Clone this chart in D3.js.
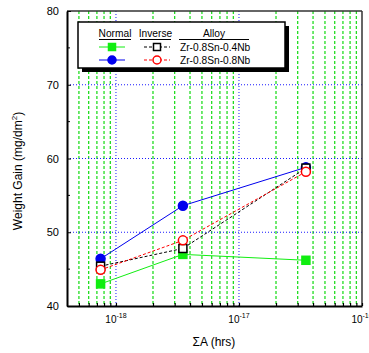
<!DOCTYPE html>
<html>
<head>
<meta charset="utf-8">
<script src="https://cdn.jsdelivr.net/npm/d3@7"></script>
<style>
  html, body { margin: 0; padding: 0; background: #fff; }
  svg { display: block; font-family: "Liberation Sans", Arial, sans-serif; }
</style>
</head>
<body>
<svg id="chart" width="369" height="353"></svg>
<script>
// Cumulative fluence ΣA (hrs) for each exposure step
const exposure = [7.5e-19, 3.5e-18, 3.5e-17];

// Weight gain (mg/dm²) per alloy and ordering
const normal04 = [43.0, 47.0, 46.2];   // Zr-0.8Sn-0.4Nb, normal
const normal08 = [46.4, 53.6, 58.8];   // Zr-0.8Sn-0.8Nb, normal
const inverse04 = [45.4, 47.8, 58.7];  // Zr-0.8Sn-0.4Nb, inverse
const inverse08 = [44.9, 48.9, 58.2];  // Zr-0.8Sn-0.8Nb, inverse

const yTicks = [40, 50, 60, 70, 80];
const yMinorTicks = [45, 55, 65, 75];
const xDecades = [1e-18, 1e-17, 1e-16];
const xDecadeExps = ["-18", "-17", "-16"];
const legendHeaders = ["Normal", "Inverse", "Alloy"];
const alloys = ["Zr-0.8Sn-0.4Nb", "Zr-0.8Sn-0.8Nb"];

const svg = d3.select("#chart");
const m = { left: 67, right: 362, top: 11, bottom: 306 };

const x = d3.scaleLog().domain([4e-19, 1e-16]).range([m.left, m.right]);
const y = d3.scaleLinear().domain([40, 80]).range([m.bottom, m.top]);

// minor (2..9 × decade) positions inside the domain
const minorX = [];
[1e-19, 1e-18, 1e-17].forEach(d => {
  for (let k = 2; k <= 9; k++) {
    const v = d * k;
    if (v > 4e-19 && v < 1e-16) minorX.push(v);
  }
});

const grid = svg.append("g");
// green dashed minor verticals
grid.selectAll("line.minor").data(minorX).join("line")
  .attr("x1", d => x(d)).attr("x2", d => x(d))
  .attr("y1", m.top).attr("y2", m.bottom)
  .attr("stroke", "#22dd22").attr("stroke-width", 1.3)
  .attr("stroke-dasharray", "3,2");
// blue dotted decade verticals
grid.selectAll("line.major").data(xDecades.filter(d => d < 1e-16)).join("line")
  .attr("x1", d => x(d)).attr("x2", d => x(d))
  .attr("y1", m.top).attr("y2", m.bottom)
  .attr("stroke", "#1a1aff").attr("stroke-width", 1)
  .attr("stroke-dasharray", "1,2");
// blue dotted horizontals
grid.selectAll("line.h").data(yTicks.filter(d => d > 40 && d < 80)).join("line")
  .attr("x1", m.left).attr("x2", m.right)
  .attr("y1", d => y(d)).attr("y2", d => y(d))
  .attr("stroke", "#1a1aff").attr("stroke-width", 1)
  .attr("stroke-dasharray", "1,2");

// frame
svg.append("line").attr("x1", m.left).attr("x2", m.right).attr("y1", m.top).attr("y2", m.top)
  .attr("stroke", "#333").attr("stroke-width", 1.5);
svg.append("line").attr("x1", m.right).attr("x2", m.right).attr("y1", m.top).attr("y2", m.bottom)
  .attr("stroke", "#333").attr("stroke-width", 1.5);

// axes with inward ticks
const yAxis = d3.axisLeft(y).tickValues(yTicks).tickSizeInner(-4).tickSizeOuter(0).tickPadding(8);
const yG = svg.append("g").attr("transform", `translate(${m.left},0)`).call(yAxis);
yG.select(".domain").attr("stroke", "#000").attr("stroke-width", 2);
yG.selectAll(".tick text").attr("font-size", 11).attr("fill", "#000");
yG.selectAll(".tick line").attr("stroke", "#000").attr("stroke-width", 1);
yG.selectAll("line.mt").data(yMinorTicks).join("line").attr("class", "mt")
  .attr("x1", 0).attr("x2", 3).attr("y1", d => y(d)).attr("y2", d => y(d))
  .attr("stroke", "#000").attr("stroke-width", 1);

const xAxis = d3.axisBottom(x).tickValues(minorX.concat(xDecades)).tickSizeInner(-3).tickSizeOuter(0).tickFormat("");
const xG = svg.append("g").attr("transform", `translate(0,${m.bottom})`).call(xAxis);
xG.select(".domain").attr("stroke", "#000").attr("stroke-width", 2);
xG.selectAll(".tick line").attr("stroke", "#000").attr("stroke-width", 1.2);

// decade labels with superscript exponents
const xl = svg.append("g");
xDecades.forEach((d, i) => {
  const t = xl.append("text").attr("x", x(d)).attr("y", 323)
    .attr("text-anchor", "middle").attr("font-size", 10).attr("fill", "#000");
  t.append("tspan").text("10");
  t.append("tspan").attr("font-size", 7).attr("dy", -5).text(xDecadeExps[i]);
});

// axis titles
svg.append("text").attr("x", 214).attr("y", 346).attr("text-anchor", "middle")
  .attr("font-size", 12).attr("fill", "#000").text("ΣA (hrs)");
const yt = svg.append("text").attr("transform", "translate(22,171) rotate(-90)")
  .attr("text-anchor", "middle").attr("font-size", 12).attr("fill", "#000");
yt.append("tspan").text("Weight Gain (mg/dm");
yt.append("tspan").attr("font-size", 8).attr("dy", -5).text("2");
yt.append("tspan").attr("dy", 5).text(")");

// series
const series = [
  { vals: normal04, color: "#11ee11", dash: null, shape: "square", fill: true },
  { vals: normal08, color: "#0000ee", dash: null, shape: "circle", fill: true },
  { vals: inverse04, color: "#000", dash: "3,2", shape: "square", fill: false },
  { vals: inverse08, color: "#ff0000", dash: "3,2", shape: "circle", fill: false }
];
const line = d3.line().x((d, i) => x(exposure[i])).y(d => y(d));

function marker(g, shape, cx, cy, s, size) {
  const h = size / 2;
  if (shape === "square") {
    return g.append("rect").attr("x", cx - h).attr("y", cy - h).attr("width", size).attr("height", size)
      .attr("fill", s.fill ? s.color : "#fff").attr("stroke", s.color).attr("stroke-width", 1.5);
  }
  return g.append("circle").attr("cx", cx).attr("cy", cy).attr("r", h + 0.5)
    .attr("fill", s.fill ? s.color : "#fff").attr("stroke", s.color).attr("stroke-width", 1.5);
}

const plot = svg.append("g");
series.forEach(s => {
  plot.append("path").datum(s.vals).attr("d", line).attr("fill", "none")
    .attr("stroke", s.color).attr("stroke-width", 1)
    .attr("stroke-dasharray", s.dash);
});
series.forEach(s => {
  s.vals.forEach((v, i) => marker(plot, s.shape, x(exposure[i]), y(v), s, 8));
});

// legend
const lg = svg.append("g");
lg.append("rect").attr("x", 82).attr("y", 26).attr("width", 207).attr("height", 46).attr("fill", "#000");
lg.append("rect").attr("x", 78).attr("y", 22).attr("width", 207).attr("height", 46)
  .attr("fill", "#fff").attr("stroke", "#000").attr("stroke-width", 1.5);

const hdr = [{ x: 115, w: [99, 131] }, { x: 155.5, w: [140, 171] }, { x: 214, w: [179, 249] }];
legendHeaders.forEach((h, i) => {
  lg.append("text").attr("x", hdr[i].x).attr("y", 37).attr("text-anchor", "middle")
    .attr("font-size", 10.2).attr("fill", "#000").text(h);
  lg.append("line").attr("x1", hdr[i].w[0]).attr("x2", hdr[i].w[1]).attr("y1", 39.5).attr("y2", 39.5)
    .attr("stroke", "#000").attr("stroke-width", 1);
});
const rowsY = [47, 60];
alloys.forEach((a, r) => {
  const sN = series[r], sI = series[r + 2];
  lg.append("line").attr("x1", 99).attr("x2", 125).attr("y1", rowsY[r]).attr("y2", rowsY[r])
    .attr("stroke", sN.color).attr("stroke-width", 1);
  marker(lg, sN.shape, 112, rowsY[r], sN, 7);
  lg.append("line").attr("x1", 144).attr("x2", 170).attr("y1", rowsY[r]).attr("y2", rowsY[r])
    .attr("stroke", sI.color).attr("stroke-width", 1).attr("stroke-dasharray", "3,2");
  marker(lg, sI.shape, 157, rowsY[r], sI, 7);
  lg.append("text").attr("x", 180).attr("y", rowsY[r] + 4).attr("font-size", 10.2)
    .attr("fill", "#000").text(a);
});
</script>
</body>
</html>
